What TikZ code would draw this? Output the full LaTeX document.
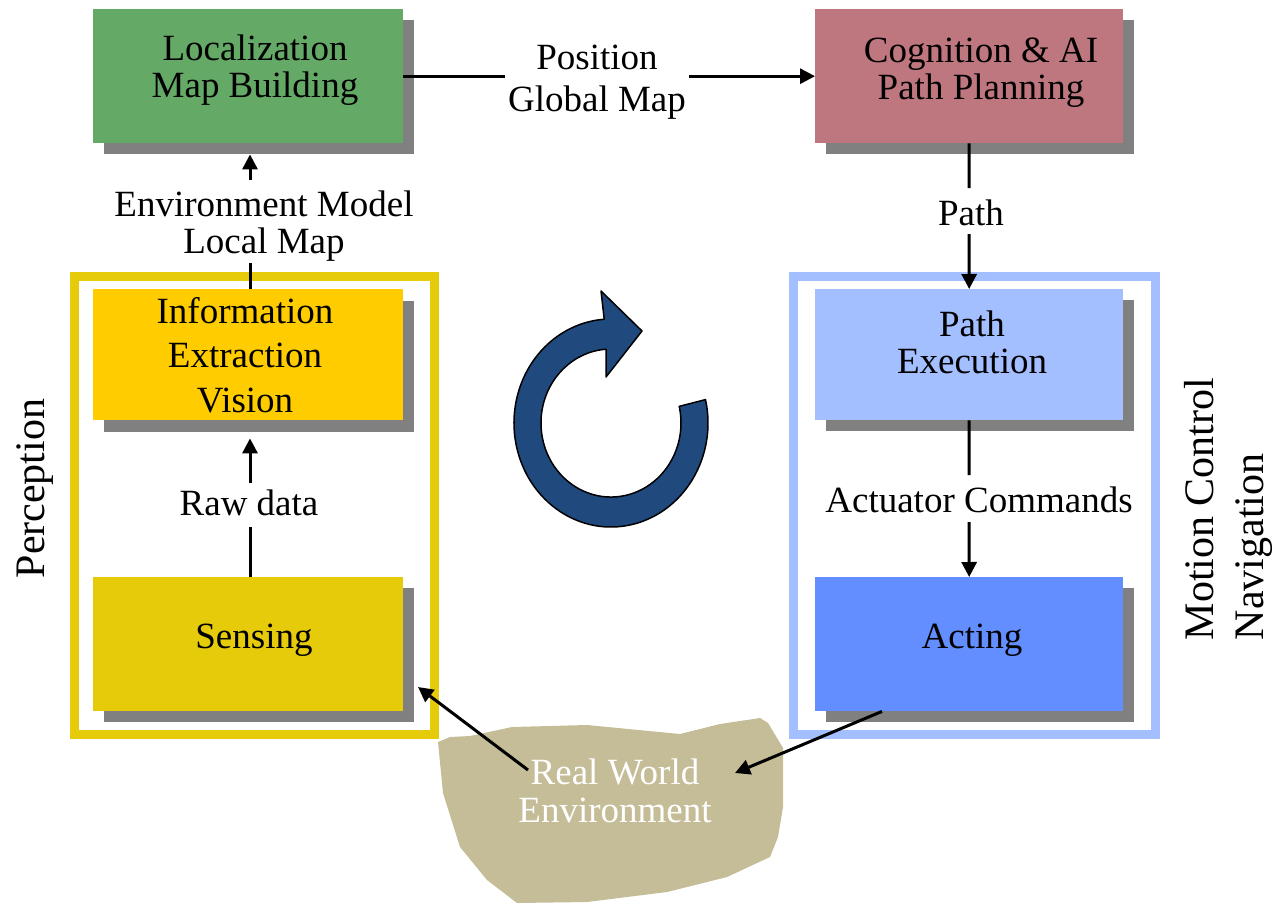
\documentclass[tikz,border=0pt]{standalone}
\usepackage{fontspec}
\setmainfont{Liberation Serif}
\usetikzlibrary{arrows.meta,shadows,calc}
\definecolor{cgreen}{RGB}{100,170,102}
\definecolor{cpink}{RGB}{191,119,127}
\definecolor{cinfo}{RGB}{255,204,0}
\definecolor{csens}{RGB}{229,203,10}
\definecolor{cpexec}{RGB}{163,191,255}
\definecolor{cact}{RGB}{98,142,255}
\definecolor{cshadow}{RGB}{128,128,128}
\definecolor{cblob}{RGB}{196,189,151}
\definecolor{ccyc}{RGB}{32,74,126}
\begin{document}
\begin{tikzpicture}[x=1pt,y=-1pt,
  box/.style={anchor=north west, inner sep=0pt, minimum width=310pt, minimum height=134pt,
    drop shadow={shadow xshift=11pt, shadow yshift=-#1, fill=cshadow, opacity=1}},
  box/.default=11pt,
  txt/.style={inner sep=0pt, align=center, font=\fontsize{37}{37}\selectfont},
  sidetxt/.style={inner sep=0pt, rotate=90, font=\fontsize{42}{50}\selectfont},
  conn/.style={line width=3pt},
  arr/.style={line width=3pt, -{Triangle[length=15pt,width=15pt]}},
  frame/.style={line width=9pt},
]
\useasboundingbox (0,0) rectangle (1276,905);

% real world blob
\fill[cblob] (438,742) -- (450,737) -- (470,736) -- (512,727) -- (587,725) -- (680,734)
  -- (720,724) -- (760,718) -- (768,723) -- (783,748) -- (783,807) -- (778,837)
  -- (770,857) -- (727,877) -- (667,892) -- (587,902) -- (517,903) -- (487,880)
  -- (460,847) -- (443,793) -- cycle;

% frames
\draw[frame, draw=csens] (74.5,276.5) rectangle (434.5,734.5);
\draw[frame, draw=cpexec] (793.5,276.5) rectangle (1155.5,734.5);

% boxes
\node[box, fill=cgreen] (green) at (93,9) {};
\node[box, fill=cpink, minimum width=308pt] (pink) at (815,9) {};
\node[box=12pt, fill=cinfo, minimum height=131pt] (info) at (93,289) {};
\node[box, fill=csens] (sens) at (93,577) {};
\node[box, fill=cpexec, minimum width=308pt, minimum height=131pt] (pexec) at (815,289) {};
\node[box, fill=cact, minimum width=308pt] (act) at (815,577) {};

% box texts
\node[txt] (gtxt) at (255,70) {Localization\\Map Building};
\node[txt] (ptxt) at (981,73) {Cognition \& AI\\Path Planning};
\node[txt, font=\fontsize{37}{44.5}\selectfont] (itxt) at (245,355) {Information\\Extraction\\Vision};
\node[txt] (stxt) at (254,640) {Sensing};
\node[txt] (petxt) at (972,342.5) {Path\\Execution};
\node[txt] (atxt) at (972,640) {Acting};

% connector labels
\node[txt, font=\fontsize{37}{42}\selectfont, inner xsep=3pt] (pos) at (597,82.5) {Position\\Global Map};
\node[txt] (env) at (264,226.5) {Environment Model\\Local Map};
\node[txt] (raw) at (249,502.5) {Raw data};
\node[txt] (pathl) at (971,212.5) {Path};
\node[txt] (actl) at (979,499.5) {Actuator Commands};
\node[txt, text=white, font=\fontsize{37}{38}\selectfont] (rw) at (615,790.5) {Real World\\Environment};

% side labels
\node[sidetxt] (perc) at (35,488.5) {Perception};
\node[sidetxt, align=left] (mc) at (1228,509) {Motion Control\\Navigation};

% connectors
\draw[conn] (green.east) -- (green.east -| pos.west);
\draw[arr] (pos.east |- pink.west) -- (pink.west);

\coordinate (e1) at (250,263);
\coordinate (e2) at (250,180);
\coordinate (gsh) at ($(green.south)+(0,11)$);
\draw[conn] (info.north -| e1) -- (e1);
\draw[arr] (e2) -- (e2 |- gsh);

\coordinate (r1) at (250,527);
\coordinate (r2) at (250,483);
\coordinate (ish) at ($(info.south)+(0,18)$);
\draw[conn] (sens.north -| r1) -- (r1);
\draw[arr] (r2) -- (r2 |- ish);

\coordinate (p1) at (969,188);
\coordinate (p2) at (969,234);
\draw[conn] (pink.south) -- (p1);
\draw[arr] (p2) -- (pexec.north);

\coordinate (a1) at (969,475);
\coordinate (a2) at (969,522);
\draw[conn] (pexec.south) -- (a1);
\draw[arr] (a2) -- (act.north);

\coordinate (w1) at (528,770);
\coordinate (w2) at (418,687);
\draw[arr] (w1) -- (w2);
\coordinate (w3) at ($(act.south west)+(67,0)$);
\coordinate (w4) at (735,773);
\draw[arr] (w3) -- (w4);

% cycle arrow
\draw[fill=ccyc, draw=black, line width=1.5pt, line join=round]
  (705.5,399.6) arc[start angle=-13, end angle=266, x radius=97, y radius=104]
  -- (601,291) -- (642,331) -- (606,377) -- (606.1,349.2)
  arc[start angle=266, end angle=-13, x radius=70, y radius=74] -- cycle;
\end{tikzpicture}
\end{document}
